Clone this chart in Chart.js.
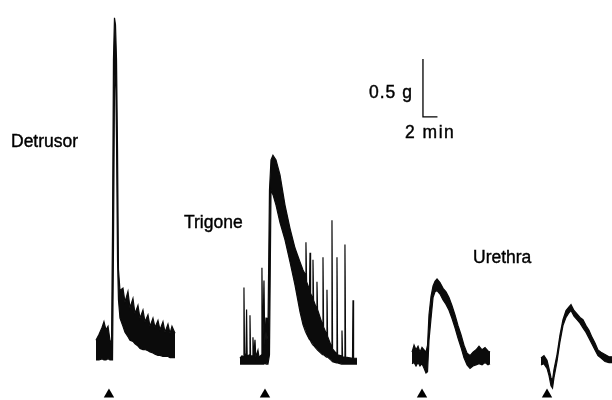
<!DOCTYPE html>
<html>
<head>
<meta charset="utf-8">
<script src="https://cdn.jsdelivr.net/npm/chart.js@4/dist/chart.umd.min.js"></script>
<style>
  html, body { margin: 0; padding: 0; background: #fff; }
  #wrap { width: 612px; height: 400px; }
</style>
</head>
<body>
<div id="wrap"><canvas id="traces" width="612" height="400"></canvas></div>
<script>
// Isometric tension recordings, time in min from start of each trace,
// tension in g above resting level. Dense noise drawn as max/min envelope.
const detrusorTime = [0, 0.41, 0.83, 1.10, 1.38, 1.66, 1.93, 2.14, 2.28, 2.41, 2.55, 2.69, 2.83, 2.97, 3.10, 3.31, 3.72, 4.00, 4.41, 4.69, 5.10, 5.38, 5.79, 6.07, 6.48, 6.76, 7.17, 7.45, 7.86, 8.14, 8.55, 8.83, 9.24, 9.52, 9.93, 10.21, 10.48, 10.90];
const detrusorMax  = [0.17, 0.22, 0.28, 0.33, 0.26, 0.29, 0.17, 0.13, 1.12, 2.59, 2.95, 2.89, 2.59, 1.81, 0.78, 0.60, 0.62, 0.50, 0.59, 0.45, 0.53, 0.40, 0.47, 0.36, 0.43, 0.33, 0.39, 0.29, 0.36, 0.28, 0.34, 0.26, 0.33, 0.24, 0.31, 0.23, 0.29, 0.23];
const detrusorMin  = [0, 0, 0.01, 0, 0, 0.01, 0, 0, 0, 0.95, 2.33, 2.59, 1.90, 0.86, 0.52, 0.36, 0.29, 0.24, 0.20, 0.17, 0.16, 0.14, 0.12, 0.10, 0.09, 0.09, 0.08, 0.07, 0.06, 0.05, 0.04, 0.04, 0.03, 0.03, 0.03, 0.02, 0.02, 0.02];

const trigoneTime = [0, 0.28, 0.48, 0.55, 0.63, 0.83, 0.91, 0.99, 1.31, 1.38, 1.46, 1.72, 1.79, 1.90, 2.07, 2.18, 2.48, 2.62, 2.97, 3.03, 3.14, 3.31, 3.42, 3.59, 3.72, 3.86, 4.07, 4.28, 4.55, 4.97, 5.52, 6.21, 6.90, 7.59, 8.28, 8.69, 9.03, 9.10, 9.19, 9.59, 9.66, 9.74, 10.00, 10.07, 10.15, 10.55, 10.62, 10.70, 11.38, 11.45, 11.53, 11.93, 12.00, 12.08, 12.62, 12.69, 12.77, 13.31, 13.38, 13.46, 14.00, 14.07, 14.15, 14.41, 14.48, 14.57, 15.52, 15.59, 15.67, 16.14];
const trigoneMax  = [0.05, 0.07, 0.06, 0.66, 0.07, 0.09, 0.47, 0.07, 0.08, 0.42, 0.07, 0.07, 0.23, 0.06, 0.21, 0.06, 0.12, 0.06, 0.08, 0.83, 0.12, 0.72, 0.16, 0.40, 0.21, 0.29, 1.50, 1.76, 1.80, 1.76, 1.63, 1.37, 1.17, 1.00, 0.88, 0.81, 0.77, 1.05, 0.71, 0.64, 0.96, 0.61, 0.57, 0.90, 0.55, 0.48, 0.71, 0.47, 0.34, 0.92, 0.32, 0.26, 0.64, 0.24, 0.15, 1.24, 0.13, 0.09, 0.92, 0.08, 0.07, 0.29, 0.06, 0.06, 1.03, 0.06, 0.05, 0.55, 0.05, 0.05];
const trigoneMin  = [0, 0, 0, 0, 0, 0, 0, 0, 0, 0, 0, 0, 0, 0, 0, 0, 0, 0, 0, 0, 0, 0, 0.01, 0, 0, 0, 0.08, 1.50, 1.46, 1.37, 1.22, 1.07, 0.88, 0.68, 0.45, 0.34, 0.28, 0.28, 0.26, 0.21, 0.21, 0.20, 0.17, 0.17, 0.16, 0.13, 0.13, 0.12, 0.08, 0.08, 0.08, 0.06, 0.06, 0.06, 0.03, 0.03, 0.02, 0.01, 0.01, 0.01, 0, 0, 0, 0, 0, 0, 0, 0, 0, 0];

const urethraTime = [0, 0.28, 0.55, 0.83, 1.10, 1.38, 1.66, 1.93, 2.14, 2.34, 2.62, 2.90, 3.17, 3.45, 3.86, 4.28, 4.69, 5.10, 5.52, 5.93, 6.34, 6.76, 7.17, 7.59, 8.00, 8.41, 8.83, 9.24, 9.66, 10.07, 10.48, 10.76];
const urethraMax  = [0.12, 0.18, 0.14, 0.17, 0.12, 0.16, 0.14, 0.12, 0.18, 0.44, 0.60, 0.69, 0.73, 0.75, 0.72, 0.67, 0.64, 0.59, 0.52, 0.44, 0.35, 0.27, 0.18, 0.11, 0.09, 0.12, 0.14, 0.17, 0.14, 0.16, 0.13, 0.12];
const urethraMin  = [0.02, 0.03, 0, 0.03, 0, 0.02, -0.02, -0.06, -0.05, 0.22, 0.41, 0.59, 0.64, 0.65, 0.62, 0.57, 0.53, 0.48, 0.41, 0.33, 0.24, 0.16, 0.07, 0.01, -0.02, 0, 0.01, 0.02, 0.01, 0.03, 0.01, 0.02];

const urethra2Time = [0, 0.41, 0.83, 1.10, 1.38, 1.59, 1.79, 2.21, 2.62, 3.03, 3.45, 3.86, 4.14, 4.55, 4.97, 5.38, 5.79, 6.21, 6.62, 7.03, 7.45, 7.86, 8.28, 8.83, 9.38, 9.79];
const urethra2Max  = [0.06, 0.08, 0.04, -0.03, -0.11, -0.13, -0.04, 0.09, 0.26, 0.39, 0.47, 0.50, 0.52, 0.47, 0.44, 0.41, 0.39, 0.34, 0.30, 0.24, 0.19, 0.13, 0.11, 0.09, 0.07, 0.07];
const urethra2Min  = [0, 0.01, -0.03, -0.09, -0.18, -0.20, -0.11, 0.03, 0.20, 0.34, 0.41, 0.45, 0.47, 0.42, 0.39, 0.36, 0.32, 0.28, 0.23, 0.18, 0.13, 0.08, 0.06, 0.03, 0.02, 0.02];

// stimulus (arrowhead) time within each trace, min
const stimulusTime = [1.79, 3.45, 1.38, 0.83];
// calibration bar
const calTension = 0.5; // g
const calTime = 2;      // min

// layout: where each trace sits on the shared page axes (min, g)
const PX_PER_MIN = 7.25;
const PX_PER_G = 116;
const traceStart = [13.24, 33.10, 56.83, 74.62];
const traceBase = [0.345, 0.31, 0.293, 0.302];
const markerLevel = 0.047;
const calCorner = { x: 58.34, y: 2.44 };

const traces = [
  [detrusorTime, detrusorMax, detrusorMin],
  [trigoneTime, trigoneMax, trigoneMin],
  [urethraTime, urethraMax, urethraMin],
  [urethra2Time, urethra2Max, urethra2Min]
];

const ink = '#0b0b0b';
const datasets = [];
traces.forEach(([t, hi, lo], i) => {
  const toPts = arr => arr.map((v, k) => ({ x: t[k] + traceStart[i], y: v + traceBase[i] }));
  datasets.push({
    data: toPts(lo), borderColor: ink, borderWidth: 1.2, pointRadius: 0,
    tension: 0, fill: false, clip: false
  });
  datasets.push({
    data: toPts(hi), borderColor: ink, borderWidth: 1.2, pointRadius: 0,
    tension: 0, fill: '-1', backgroundColor: ink, clip: false
  });
});

// arrowheads under each trace
datasets.push({
  type: 'scatter',
  data: stimulusTime.map((s, i) => ({ x: s + traceStart[i], y: markerLevel })),
  pointStyle: 'triangle', pointRadius: 6, backgroundColor: '#000', borderColor: '#000',
  borderWidth: 0, clip: false
});

// calibration bar: 0.5 g vertical, 2 min horizontal
datasets.push({
  data: [
    { x: calCorner.x, y: calCorner.y + calTension },
    { x: calCorner.x, y: calCorner.y },
    { x: calCorner.x + calTime, y: calCorner.y }
  ],
  borderColor: '#000', borderWidth: 1.3, pointRadius: 0, tension: 0, fill: false, clip: false
});

const labels = [
  { text: 'Detrusor', x: 11, y: 147, spacing: 0 },
  { text: 'Trigone', x: 184, y: 228, spacing: 0 },
  { text: 'Urethra', x: 473, y: 263, spacing: 0 },
  { text: '0.5 g', x: 369, y: 98, spacing: 1 },
  { text: '2 min', x: 405, y: 138, spacing: 1.5 }
];

const labelPlugin = {
  id: 'labels',
  afterDraw(chart) {
    const ctx = chart.ctx;
    ctx.save();
    ctx.fillStyle = '#000';
    ctx.strokeStyle = '#000';
    ctx.lineWidth = 0.4;
    ctx.font = '17.5px "Liberation Sans", Arial, sans-serif';
    ctx.textBaseline = 'alphabetic';
    labels.forEach(l => {
      ctx.letterSpacing = l.spacing + 'px';
      ctx.fillText(l.text, l.x, l.y);
      ctx.strokeText(l.text, l.x, l.y);
    });
    ctx.restore();
  }
};

new Chart(document.getElementById('traces'), {
  type: 'line',
  data: { datasets },
  options: {
    responsive: false,
    animation: false,
    layout: { padding: 0, autoPadding: false },
    plugins: { legend: { display: false }, tooltip: { enabled: false } },
    scales: {
      x: { type: 'linear', display: false, min: 0, max: 612 / PX_PER_MIN },
      y: { type: 'linear', display: false, min: 0, max: 400 / PX_PER_G }
    }
  },
  plugins: [labelPlugin]
});
</script>
</body>
</html>
